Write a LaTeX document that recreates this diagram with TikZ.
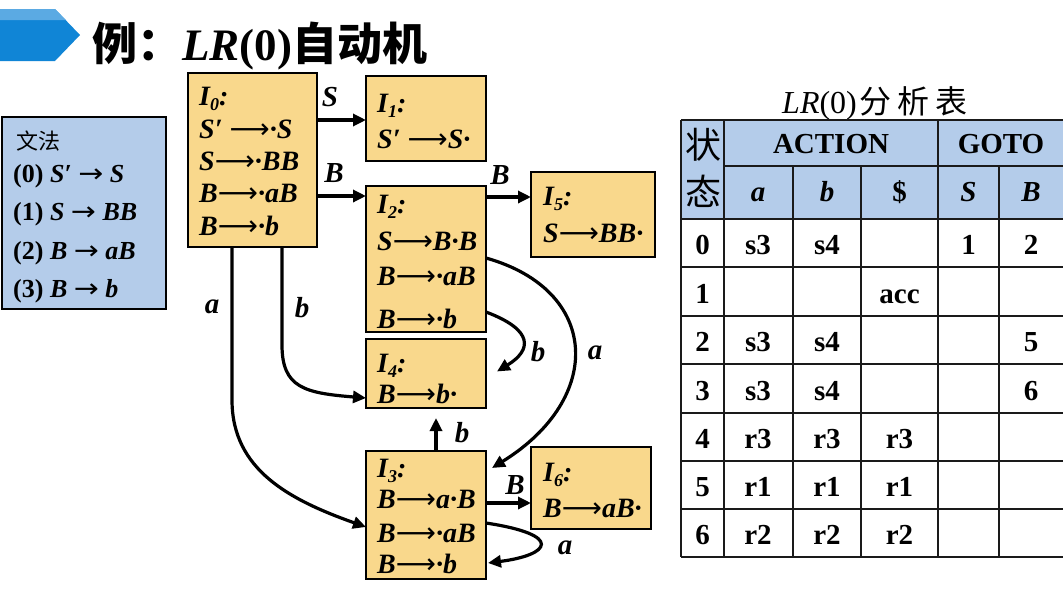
\documentclass[tikz,border=0pt]{standalone}
\usepackage{graphicx}
\usepackage{fontspec}
\setmainfont{Liberation Serif}
\newfontfamily\cjk{Noto Sans CJK SC}
\newfontfamily\symf{DejaVu Sans}
\usetikzlibrary{arrows.meta,calc}
\definecolor{boxfill}{HTML}{F9D88C}
\definecolor{gramfill}{HTML}{B4CCEA}
\definecolor{bandd}{HTML}{1085D6}
\definecolor{bandl}{HTML}{5BAAE3}
\definecolor{tline}{HTML}{1A1A1A}
\newcommand\arrw{{\symf\mdseries\upshape ⟶}}
\newcommand\sarr{\scalebox{1.15}[1]{\symf\mdseries\upshape →}}
\newcommand\Ii[1]{I\raisebox{-5pt}{\fontsize{18}{18}\selectfont #1}:}
\tikzset{
  ibox/.style={draw, line width=2pt, fill=boxfill, anchor=north west, inner sep=0pt, outer sep=0pt},
  itext/.style={anchor=base west, inner sep=0pt, font=\fontsize{28}{30}\selectfont\bfseries\itshape},
  lab/.style={inner sep=0pt, font=\fontsize{29}{30}\selectfont\bfseries\itshape},
  conn/.style={line width=3.2pt, -{Triangle[length=13pt,width=12pt]}},
  gtext/.style={anchor=base west, inner sep=0pt, font=\fontsize{26}{28}\selectfont\bfseries},
  cell/.style={anchor=base, inner sep=0pt, font=\fontsize{29}{30}\selectfont\bfseries},
  grid/.style={draw=tline, line width=1.6pt},
}
\begin{document}
\begin{tikzpicture}[x=1pt,y=-1pt]
\useasboundingbox (0,0) rectangle (1063,592);
\fill[white] (0,0) rectangle (1063,592);

% title banner
\fill[bandd] (0,9) -- (55,9) -- (80,35) -- (55,61) -- (0,61) -- cycle;
\fill[bandl] (0,9) -- (55,9) -- (66,20) -- (0,20) -- cycle;
\node[anchor=base west, inner sep=0pt] (title) at (92,60)
  {\fontsize{45}{45}\selectfont{\cjk\bfseries 例：}{\bfseries\itshape LR}{\bfseries (0)}{\cjk\bfseries 自动机}};

% grammar box
\node[draw, line width=2pt, fill=gramfill, anchor=north west, inner sep=0pt, outer sep=0pt,
      minimum width=164pt, minimum height=192pt] (G) at (2,117) {};
\node[anchor=base west, inner sep=0pt, font=\fontsize{22}{24}\selectfont\cjk] (g0) at (16,149) {文法};
\node[gtext] (g1) at (13,182) {(0) \textit{S′} \sarr{} \textit{S}};
\node[gtext] (g2) at (13,220) {(1) \textit{S} \sarr{} \textit{BB}};
\node[gtext] (g3) at (13,259) {(2) \textit{B} \sarr{} \textit{aB}};
\node[gtext] (g4) at (13,297) {(3) \textit{B} \sarr{} \textit{b}};

% item set boxes
\node[ibox, minimum width=129pt, minimum height=174pt] (I0) at (188,73) {};
\node[ibox, minimum width=120pt, minimum height=85pt]  (I1) at (366,76) {};
\node[ibox, minimum width=120pt, minimum height=146pt] (I2) at (366,186) {};
\node[ibox, minimum width=124pt, minimum height=85pt]  (I5) at (531,172) {};
\node[ibox, minimum width=120pt, minimum height=69pt]  (I4) at (366,339) {};
\node[ibox, minimum width=120pt, minimum height=128pt] (I3) at (366,451) {};
\node[ibox, minimum width=120pt, minimum height=82pt]  (I6) at (531,447) {};

% box texts
\node[itext] (t00) at (199,105) {\Ii{0}};
\node[itext] (t01) at (199,138) {S′ \arrw·S};
\node[itext] (t02) at (199,170) {S\arrw·BB};
\node[itext] (t03) at (199,202) {B\arrw·aB};
\node[itext] (t04) at (199,235) {B\arrw·b};

\node[itext] (t10) at (377,112) {\Ii{1}};
\node[itext] (t11) at (377,148) {S′ \arrw S·};

\node[itext] (t20) at (377,213) {\Ii{2}};
\node[itext] (t21) at (377,250) {S\arrw B·B};
\node[itext] (t22) at (377,285) {B\arrw·aB};
\node[itext] (t23) at (377,328) {B\arrw·b};

\node[itext] (t50) at (543,205) {\Ii{5}};
\node[itext] (t51) at (543,242) {S\arrw BB·};

\node[itext] (t40) at (377,372) {\Ii{4}};
\node[itext] (t41) at (377,403) {B\arrw b·};

\node[itext] (t30) at (377,477) {\Ii{3}};
\node[itext] (t31) at (377,508) {B\arrw a·B};
\node[itext] (t32) at (377,542) {B\arrw·aB};
\node[itext] (t33) at (377,573) {B\arrw·b};

\node[itext] (t60) at (543,481) {\Ii{6}};
\node[itext] (t61) at (543,517) {B\arrw aB·};

% connectors
\draw[conn] ($(I0.north east)+(0,47)$) -- ($(I1.north west)+(0,44)$);
\draw[conn] ($(I0.north east)+(0,123)$) -- ($(I2.north west)+(0,10)$);
\draw[conn] ($(I2.north east)+(0,11)$) -- ($(I5.north west)+(0,25)$);
\draw[conn] ($(I0.south west)+(94,0)$) -- (282,345) .. controls (282,388) and (305,393) .. ($(I4.south west)+(0,-10)$);
\draw[conn] ($(I0.south west)+(44,0)$) -- (232,400) .. controls (232,470) and (290,500) .. ($(I3.north west)+(0,76)$);
\draw[conn] ($(I2.south east)+(0,-20)$) .. controls (534,330) and (532,350) .. ($(I4.east)+(11,-2)$);
\draw[conn] ($(I2.north east)+(0,72)$) .. controls (600,290) and (605,398) .. ($(I3.north east)+(6,17)$);
\draw[conn] ($(I3.north)+(10,0)$) -- ($(I4.south)+(10,10)$);
\draw[conn] ($(I3.north east)+(0,52)$) -- ($(I6.north west)+(0,56)$);
\draw[conn] ($(I3.north east)+(0,72)$) .. controls (565,535) and (550,555) .. ($(I3.north east)+(2,112)$);

% connector labels
\node[lab] (l1) at (330,97) {S};
\node[lab] (l2) at (334,173) {B};
\node[lab] (l3) at (500,175) {B};
\node[lab] (l4) at (212,307) {a};
\node[lab] (l5) at (302,308) {b};
\node[lab] (l6) at (538,352) {b};
\node[lab] (l7) at (595,353) {a};
\node[lab] (l8) at (462,433) {b};
\node[lab] (l9) at (515,485) {B};
\node[lab] (l10) at (565,548) {a};

% table
\node[anchor=base west, inner sep=0pt] (ttl) at (782,113)
  {\fontsize{32}{32}\selectfont\textit{LR}(0)\hspace{3pt}{\cjk 分\hspace{6pt}析\hspace{6pt}表}};
\fill[gramfill] (681,120) rectangle (1063,219);
\foreach \yy in {120,219,267,316,364,413,461,509,557}
  \draw[grid] (681,\yy) -- (1063,\yy);
\draw[grid] (724,166) -- (1063,166);
\draw[grid] (681,120) -- (681,557);
\draw[grid] (724,120) -- (724,557);
\draw[grid] (938,120) -- (938,557);
\foreach \xx in {793,861,999}
  \draw[grid] (\xx,166) -- (\xx,557);

\node[inner sep=0pt, font=\fontsize{36}{36}\selectfont\cjk] (h1) at (703,145) {状};
\node[inner sep=0pt, font=\fontsize{36}{36}\selectfont\cjk] (h2) at (703,191) {态};
\node[cell] (hA) at (831,153) {ACTION};
\node[cell] (hG) at (1001,153) {GOTO};
\node[cell] (ha) at (758,201.5) {\itshape a};
\node[cell] (hb) at (827,201.5) {\itshape b};
\node[cell] (hd) at (899.5,201.5) {\$};
\node[cell] (hS) at (968.5,201.5) {\itshape S};
\node[cell] (hB) at (1031,201.5) {\itshape B};

\node[cell] (r0) at (702.5,254.5) {0};
\node[cell] (r0a) at (758,254.5) {s3};
\node[cell] (r0b) at (827,254.5) {s4};
\node[cell] (r0S) at (968.5,254.5) {1};
\node[cell] (r0B) at (1031,254.5) {2};

\node[cell] (r1) at (702.5,303) {1};
\node[cell] (r1d) at (899.5,303) {acc};

\node[cell] (r2) at (702.5,351.5) {2};
\node[cell] (r2a) at (758,351.5) {s3};
\node[cell] (r2b) at (827,351.5) {s4};
\node[cell] (r2B) at (1031,351.5) {5};

\node[cell] (r3) at (702.5,400) {3};
\node[cell] (r3a) at (758,400) {s3};
\node[cell] (r3b) at (827,400) {s4};
\node[cell] (r3B) at (1031,400) {6};

\node[cell] (r4) at (702.5,448.5) {4};
\node[cell] (r4a) at (758,448.5) {r3};
\node[cell] (r4b) at (827,448.5) {r3};
\node[cell] (r4d) at (899.5,448.5) {r3};

\node[cell] (r5) at (702.5,496.5) {5};
\node[cell] (r5a) at (758,496.5) {r1};
\node[cell] (r5b) at (827,496.5) {r1};
\node[cell] (r5d) at (899.5,496.5) {r1};

\node[cell] (r6) at (702.5,544.5) {6};
\node[cell] (r6a) at (758,544.5) {r2};
\node[cell] (r6b) at (827,544.5) {r2};
\node[cell] (r6d) at (899.5,544.5) {r2};
\end{tikzpicture}
\end{document}
